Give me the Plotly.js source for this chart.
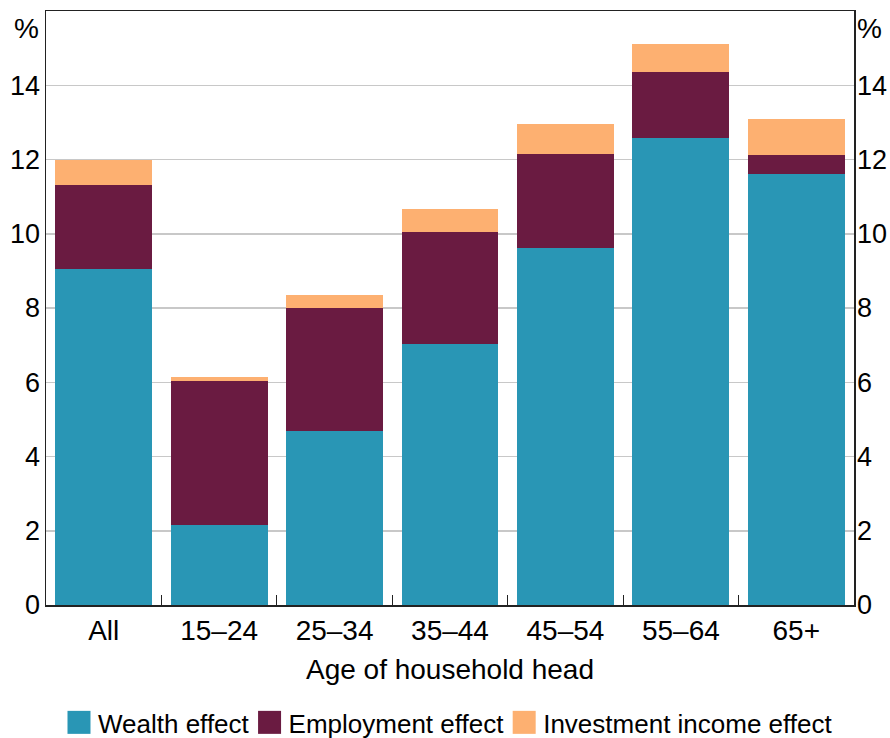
<!DOCTYPE html>
<html>
<head>
<meta charset="utf-8">
<script src="https://cdn.plot.ly/plotly-3.0.1.min.js"></script>
<style>html,body{margin:0;padding:0;background:#fff;}#chart{width:890px;height:738px;}</style>
</head>
<body>
<div id="chart"></div>
<script>
const categories = ["All", "15–24", "25–34", "35–44", "45–54", "55–64", "65+"];
const wealthEffect = [9.05, 2.15, 4.68, 7.03, 9.61, 12.58, 11.61];
const employmentEffect = [2.25, 3.88, 3.32, 3.01, 2.53, 1.77, 0.51];
const investmentEffect = [0.70, 0.11, 0.35, 0.62, 0.81, 0.75, 0.97];
const yTicks = [0, 2, 4, 6, 8, 10, 12, 14];

const font = "Liberation Sans, Arial, sans-serif";
const mk = (name, y, color) => ({
  type: "bar", name: name, x: categories, y: y,
  marker: {color: color, line: {width: 0}}, hoverinfo: "skip"
});
const data = [
  mk("Wealth effect", wealthEffect, "#2996B5"),
  mk("Employment effect", employmentEffect, "#6A1B41"),
  mk("Investment income effect", investmentEffect, "#FDB071"),
  {type: "scatter", x: [categories[0]], y: [0], yaxis: "y2", mode: "markers",
   marker: {opacity: 0}, showlegend: false, hoverinfo: "skip"}
];
const axisY = {
  range: [0, 16], tickvals: yTicks, ticktext: yTicks.map(String),
  showgrid: true, gridcolor: "#c8c8c8", gridwidth: 1.5,
  zeroline: false, showline: true, linecolor: "#222", linewidth: 1.5,
  ticks: "", tickfont: {family: font, size: 27, color: "#000"}, fixedrange: true,
  automargin: false
};
const layout = {
  width: 890, height: 738,
  margin: {l: 46, r: 36, t: 11, b: 133},
  paper_bgcolor: "#fff", plot_bgcolor: "#fff",
  barmode: "stack", bargap: 0.16,
  font: {family: font, color: "#000"},
  xaxis: {
    type: "category", showline: true, mirror: true, linecolor: "#222", linewidth: 1.5,
    ticks: "inside", tickson: "boundaries", ticklen: 10, tickcolor: "#222", tickwidth: 1,
    tickfont: {family: font, size: 28, color: "#000"},
    title: {text: "Age of household head", font: {family: font, size: 28, color: "#000"}, standoff: 14},
    fixedrange: true, automargin: false
  },
  yaxis: Object.assign({}, axisY, {side: "left", ticklabelstandoff: -1}),
  yaxis2: Object.assign({}, axisY, {side: "right", overlaying: "y", showgrid: false, ticklabelstandoff: -4}),
  showlegend: true,
  legend: {
    orientation: "h", x: 0.5, xanchor: "center", xref: "container",
    y: 0, yanchor: "bottom", yref: "container",
    font: {family: font, size: 26, color: "#000"}, traceorder: "normal",
    itemwidth: 30, bgcolor: "rgba(0,0,0,0)"
  },
  annotations: [
    {text: "%", xref: "paper", yref: "paper", x: 0, y: 1, xanchor: "right", yanchor: "top",
     xshift: -5, yshift: 0, showarrow: false, font: {family: font, size: 28, color: "#000"}},
    {text: "%", xref: "paper", yref: "paper", x: 1, y: 1, xanchor: "left", yanchor: "top",
     xshift: 1, yshift: 0, showarrow: false, font: {family: font, size: 28, color: "#000"}}
  ]
};

function restyleLegend() {
  const root = document.querySelector("#chart");
  const rootBox = root.getBoundingClientRect();
  const groups = Array.from(root.querySelectorAll(".legend .traces"));
  const sq = 23, gapSqText = 7.5, gapItems = 8.5, centerY = 722.5;
  const plotCenter = layout.margin.l + (layout.width - layout.margin.l - layout.margin.r) / 2;
  groups.forEach(function (g) {
    g.querySelectorAll(".legendpoints path").forEach(function (p) {
      p.setAttribute("transform", "translate(" + (40 - gapSqText - sq / 2) + ",0) scale(" + (sq / 12) + ")");
    });
  });
  const widths = groups.map(function (g) {
    return g.querySelector("text.legendtext").getBoundingClientRect().width;
  });
  const total = widths.reduce(function (a, w) { return a + sq + gapSqText + w; }, 0) + gapItems * (groups.length - 1);
  let cursor = plotCenter - total / 2;
  groups.forEach(function (g, i) {
    const t = g.querySelector("text.legendtext");
    const tb = t.getBoundingClientRect();
    const wantTextLeft = cursor + sq + gapSqText;
    const dx = wantTextLeft - (tb.left - rootBox.left);
    const dy = centerY - ((tb.top + tb.bottom) / 2 - rootBox.top) + 1;
    const m = /translate\(\s*([-\d.e]+)[ ,]+([-\d.e]+)\s*\)/.exec(g.getAttribute("transform") || "translate(0,0)");
    const x0 = m ? parseFloat(m[1]) : 0, y0 = m ? parseFloat(m[2]) : 0;
    g.setAttribute("transform", "translate(" + (x0 + dx) + "," + (y0 + dy) + ")");
    cursor += sq + gapSqText + widths[i] + gapItems;
  });
}

Plotly.newPlot("chart", data, layout, {displayModeBar: false, staticPlot: true}).then(restyleLegend);
</script>
</body>
</html>
